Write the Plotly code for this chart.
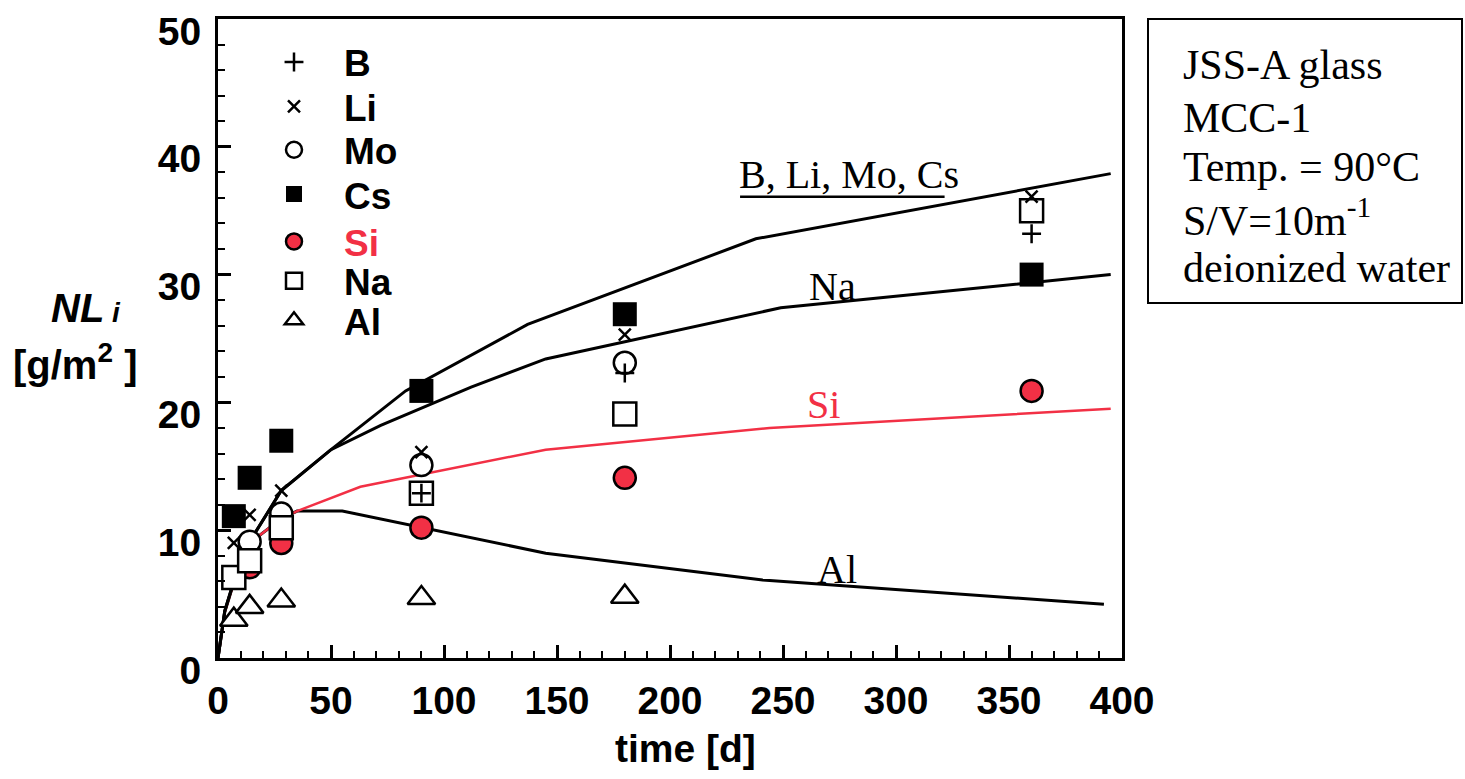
import plotly.graph_objects as go

# ---- measured data (time in days, normalized loss NLi in g/m^2) ----
days = [7, 14, 28, 90, 180, 360]
nl_B = [None, None, None, 12.9, 22.3, 33.2]
nl_Li = [9.0, 11.2, 13.1, 16.1, 25.3, 36.1]
nl_Mo = [None, 9.1, 11.3, 15.1, 23.1, 35.0]
nl_Cs = [11.1, 14.1, 17.0, 20.9, 26.9, 30.0]
nl_Si = [None, 7.1, 9.0, 10.2, 14.1, 20.9]
nl_Na = [6.3, 7.6, 10.2, 12.9, 19.1, 35.0]
nl_Al = [3.0, 4.0, 4.5, 4.7, 4.8, None]

# ---- model curves ----
fit_upper_t = [0, 3, 7, 14, 28, 50, 83, 137, 238, 395]
fit_upper_v = [0, 3.7, 6.0, 9.1, 13.1, 16.3, 20.9, 26.1, 32.8, 37.9]
fit_na_t = [0, 3, 7, 14, 28, 50, 72, 112, 145, 249, 395]
fit_na_v = [0, 3.7, 6.0, 9.1, 13.1, 16.3, 18.2, 21.2, 23.4, 27.4, 30.0]
fit_si_t = [0, 3, 7, 14, 28, 35, 63, 145, 244, 395]
fit_si_v = [0, 3.6, 5.9, 9.0, 10.9, 11.5, 13.4, 16.3, 18.0, 19.5]
fit_al_t = [0, 3, 7, 14, 28, 35, 55, 145, 241, 392]
fit_al_v = [0, 3.6, 5.9, 9.0, 10.9, 11.5, 11.5, 8.2, 6.1, 4.2]

info_lines = ["JSS-A glass", "MCC-1", "Temp. = 90°C", "S/V=10m<sup>-1</sup>", "deionized water"]

RED = "#f23045"
SANS = "Liberation Sans, Arial, Helvetica, sans-serif"
SERIF = "Liberation Serif, Times New Roman, serif"

fig = go.Figure()

# model lines
fig.add_trace(go.Scatter(x=fit_al_t, y=fit_al_v, mode="lines",
                         line=dict(color="black", width=3), showlegend=False, hoverinfo="skip"))
fig.add_trace(go.Scatter(x=fit_si_t, y=fit_si_v, mode="lines",
                         line=dict(color=RED, width=2.5), showlegend=False, hoverinfo="skip"))
fig.add_trace(go.Scatter(x=fit_na_t, y=fit_na_v, mode="lines",
                         line=dict(color="black", width=3), showlegend=False, hoverinfo="skip"))
fig.add_trace(go.Scatter(x=fit_upper_t, y=fit_upper_v, mode="lines",
                         line=dict(color="black", width=3), showlegend=False, hoverinfo="skip"))

# markers (drawing order), each in its own legend box
series = [
    ("Al", nl_Al, "triangle-up", 24, "white", 2.5, "legend7", "Al"),
    ("Si", nl_Si, "circle", 22, RED, 2.5, "legend5", "<span style='color:%s'>Si</span>" % RED),
    ("Mo", nl_Mo, "circle", 22, "white", 2.5, "legend3", "Mo"),
    ("Na", nl_Na, "square", 23, "white", 2.5, "legend6", "Na"),
    ("Cs", nl_Cs, "square", 24, "black", 0, "legend4", "Cs"),
    ("B", nl_B, "cross-thin", 13.5, "black", 2.5, "legend", "B"),
    ("Li", nl_Li, "x-thin", 12, "black", 2.5, "legend2", "Li"),
]
for name, vals, sym, size, fill, lw, leg, label in series:
    fig.add_trace(go.Scatter(
        x=days, y=vals, mode="markers", name=label, legend=leg,
        marker=dict(symbol=sym, size=size, color=fill,
                    line=dict(color="black", width=lw)),
    ))

# plot geometry (pixels)
L, R, T, B_ = 218, 1122, 10, 658
W, H = 1465, 779
pw, ph = R - L, B_ - T

def px(xp):
    return (xp - L) / pw

def py(yp):
    return (B_ - yp) / ph

legend_rows = ["legend", "legend2", "legend3", "legend4", "legend5", "legend6", "legend7"]
row_y = [54, 99, 143, 188, 236, 276, 316]
leg_layout = {}
for lid, yc in zip(legend_rows, row_y):
    leg_layout[lid] = dict(
        x=px(244), y=py(yc), xanchor="left", yanchor="middle",
        bgcolor="rgba(0,0,0,0)", borderwidth=0, itemwidth=90,
        font=dict(family=SANS, size=37, color="black", weight="bold"),
        itemsizing="trace",
    )

fig.update_layout(
    width=W, height=H,
    margin=dict(l=L, r=W - R, t=T, b=H - B_, pad=0),
    paper_bgcolor="white", plot_bgcolor="white",
    showlegend=True,
    **leg_layout,
)

axis_common = dict(
    showgrid=False, zeroline=False, showline=True, linecolor="black", linewidth=3,
    mirror=True, ticks="inside", ticklen=13, tickwidth=2.5, tickcolor="black",
    tickfont=dict(family=SANS, size=39, color="black", weight="bold"),
)
fig.update_xaxes(range=[0, 400], tickmode="linear", tick0=0, dtick=50,
                 minor=dict(ticks="inside", dtick=10, ticklen=7, tickwidth=2, tickcolor="black"),
                 ticklabelstandoff=6, **axis_common)
fig.update_yaxes(range=[0, 50], tickmode="linear", tick0=0, dtick=10,
                 minor=dict(ticks="inside", dtick=2, ticklen=7, tickwidth=2, tickcolor="black"),
                 ticklabelshift=12, ticklabelstandoff=6, **axis_common)

annotations = [
    dict(x=279, y=37.8, xref="x", yref="y", text="B, Li, Mo, Cs",
         font=dict(family=SERIF, size=40, color="black"), showarrow=False),
    dict(x=272, y=29.1, xref="x", yref="y", text="Na",
         font=dict(family=SERIF, size=40, color="black"), showarrow=False),
    dict(x=268, y=19.8, xref="x", yref="y", text="Si",
         font=dict(family=SERIF, size=40, color=RED), showarrow=False),
    dict(x=274, y=6.95, xref="x", yref="y", text="Al",
         font=dict(family=SERIF, size=40, color="black"), showarrow=False),
    # axis titles
    dict(x=px(685), y=py(750), xref="paper", yref="paper", xanchor="center", yanchor="middle",
         text="<b>time [d]</b>",
         font=dict(family=SANS, size=39, color="black"), showarrow=False),
    dict(x=px(86), y=py(303), xref="paper", yref="paper", xanchor="center", yanchor="middle",
         text="<b><i>NL</i></b><b><i><span style='font-size:28px'> i</span></i></b>",
         font=dict(family=SANS, size=40, color="black"), showarrow=False),
    dict(x=px(75), y=py(358), xref="paper", yref="paper", xanchor="center", yanchor="middle",
         text="<b>[g/m<sup>2</sup> ]</b>",
         font=dict(family=SANS, size=40, color="black"), showarrow=False),
]
# info box text, one line each
info_y = [57, 110, 160, 211, 263]
for txt, yy in zip(info_lines, info_y):
    annotations.append(dict(x=px(1181), y=py(yy), xref="paper", yref="paper",
                            xanchor="left", yanchor="middle", align="left", text=txt,
                            font=dict(family=SERIF, size=42, color="black"), showarrow=False))
fig.update_layout(annotations=annotations)

# underline of the "B, Li, Mo, Cs" label
fig.add_shape(type="line", xref="x", yref="y", x0=231, x1=321.5, y0=36.1, y1=36.1,
              line=dict(color="black", width=2.5))
# info box frame
fig.add_shape(type="rect", xref="paper", yref="paper",
              x0=px(1148), x1=px(1462), y0=py(298), y1=py(10),
              line=dict(color="black", width=2), fillcolor="rgba(0,0,0,0)")

fig.write_html("out.html")
